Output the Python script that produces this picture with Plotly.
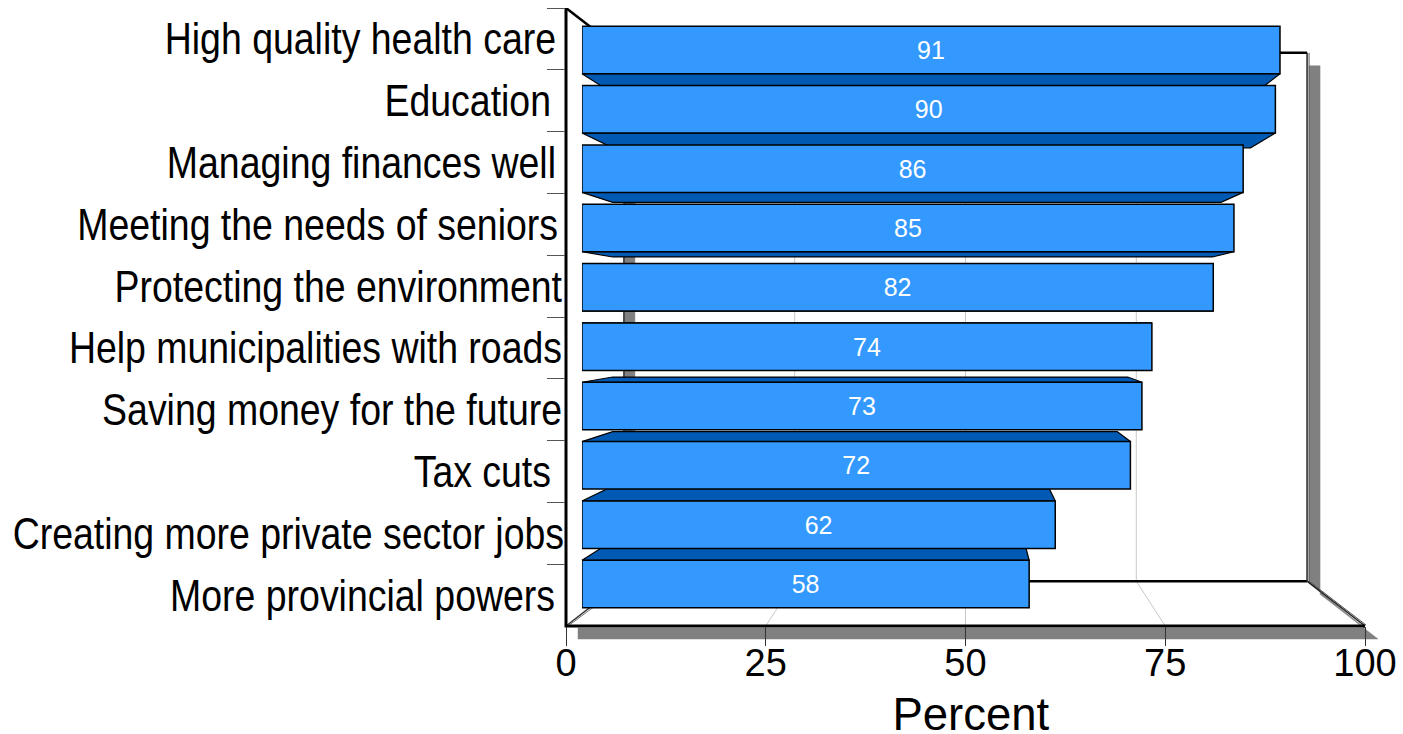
import plotly.graph_objects as go

# ---------- data ----------
categories = ["High quality health care", "Education", "Managing finances well",
              "Meeting the needs of seniors", "Protecting the environment",
              "Help municipalities with roads", "Saving money for the future",
              "Tax cuts", "Creating more private sector jobs", "More provincial powers"]
bar_values = [91.0, 90.4, 86.2, 85.0, 82.3, 74.3, 73.0, 71.5, 61.7, 58.3]
value_labels = ["91", "90", "86", "85", "82", "74", "73", "72", "62", "58"]
x_ticks = [0, 25, 50, 75, 100]
x_title = "Percent"

# ---------- layout constants ----------
W, H = 1403, 734
LEFT, RIGHT, TOP, BOTTOM = 566, 1365, 8, 626
BACK_SCALE = 0.855          # back wall size / front plane size
BAR_FRONT = 0.96            # bar front face size / front plane size
BAR_BACK = 0.883            # bar back face size / front plane size
FONT = "Liberation Sans"
BLUE, DARK_BLUE, SHADOW, GRID = "#3399FF", "#0059B3", "#808080", "#C8C8C8"
N = len(categories)
MID_R = (N - 1) / 2
PAD = 30                    # extra pixels around the drawing frame
LABEL_STRETCH = 0.851       # category labels are drawn horizontally condensed
LABEL_RIGHT = 561           # right edge of the category labels, px
LABEL_NUDGE = [-5, -10, -5, -3, 1, 1, 1, -10, 3, -6]   # offsets of those labels from that edge, px
TITLE_CENTER = [971, 714]   # axis title centre, px


def project(v, r, s):
    """Perspective from the front plane, toward the chart centre."""
    return 50 + (v - 50) * s, MID_R + (r - MID_R) * s


def dom_x(a, b):
    return [a / W, b / W]


def dom_y(top, bottom):
    return [1 - bottom / H, 1 - top / H]


fig = go.Figure()


def poly(points, fill=None, color="black", width=1.0):
    xs = [p[0] for p in points]
    ys = [p[1] for p in points]
    if fill:
        xs.append(xs[0])
        ys.append(ys[0])
    fig.add_trace(go.Scatter(
        x=xs, y=ys, mode="lines", xaxis="x", yaxis="y",
        fill="toself" if fill else None, fillcolor=fill,
        line=dict(color=color, width=width), hoverinfo="skip", showlegend=False))


# frame corners
top_r, bot_r = -0.5, N - 0.5
BL = project(0, bot_r, BACK_SCALE)
BR = project(100, bot_r, BACK_SCALE)
TL = project(0, top_r, BACK_SCALE)
TR = project(100, top_r, BACK_SCALE)
FL, FR, FT = (0, bot_r), (100, bot_r), (0, top_r)
PX = 100 / (RIGHT - LEFT)             # value units per pixel
PY = N / (BOTTOM - TOP)               # row units per pixel
DX, DY = 13 * PX, 13 * PY

# shadow
poly([(FL[0] + 12 * PX, FL[1] + 2 * PY), (FL[0] + 12 * PX, FL[1] + DY), (FR[0] + DX, FR[1] + DY),
      (BR[0] + DX, BR[1] + DY), (TR[0] + DX, TR[1] + DY), (TR[0] + 2 * PX, TR[1] + DY),
      (BR[0] + 2 * PX, BR[1] + 2 * PY), (FR[0], FR[1] + 2 * PY)], fill=SHADOW, color=SHADOW, width=0.5)
poly([(TL[0], TL[1] + DY), (TL[0] + 11 * PX, TL[1] + DY), (BL[0] + 11 * PX, BL[1]), BL],
     fill=SHADOW, color=SHADOW, width=0.5)

# grid lines on back wall and floor
for t in x_ticks[1:-1]:
    a = project(t, top_r, BACK_SCALE)
    b = project(t, bot_r, BACK_SCALE)
    poly([a, b, (t, bot_r)], color=GRID, width=1)

# walls
poly([TL, BL], color="#333333", width=1.5)
poly([BL, BR], color="black", width=2.5)
poly([TL, TR], color="black", width=2.5)
poly([TR, BR], color="#222222", width=1.5)
poly([(TR[0] + 2 * PX, TR[1]), (BR[0] + 2 * PX, BR[1] + 2 * PY)], color="#555555", width=1)
poly([BR, FR], color="#222222", width=1.5)
poly([(BR[0] + 2 * PX, BR[1]), (FR[0] + 1 * PX, FR[1] - 1 * PY)], color="#555555", width=1)
poly([FL, BL], color="#333333", width=1.5)
poly([(FL[0] + 2 * PX, FL[1]), (BL[0] + 2 * PX, BL[1] + 2 * PY)], color="#777777", width=1)
poly([FT, TL], color="black", width=2.5)
# front axis lines, centred on the front plane edges
poly([FT, FL, FR], color="black", width=3)

# depth faces of the bars (below the front faces)
half = 0.4
for i, v in enumerate(bar_values):
    r = i + half if i < MID_R else i - half
    poly([project(0, r, BAR_FRONT), project(v, r, BAR_FRONT),
          project(v, r, BAR_BACK), project(0, r, BAR_BACK)],
         fill=DARK_BLUE, color="black", width=1.2)

# the visible axes need one trace to exist; its markers stay invisible
fig.add_trace(go.Scatter(
    x=bar_values, y=categories, mode="markers", marker=dict(opacity=0, size=1),
    xaxis="x2", yaxis="y2", hoverinfo="skip", showlegend=False))

# front faces of the bars, on their own axes set into the chart at the bar plane
fig.add_trace(go.Bar(
    x=bar_values, y=categories, orientation="h", xaxis="x3", yaxis="y3",
    marker=dict(color=BLUE, line=dict(color="black", width=1.5)),
    text=value_labels, textposition="inside", insidetextanchor="middle", textangle=0,
    constraintext="none", textfont=dict(family=FONT, size=25, color="white"),
    hoverinfo="skip", showlegend=False, cliponaxis=False))

cx, cy = (LEFT + RIGHT) / 2, (TOP + BOTTOM) / 2
hw, hh = (RIGHT - LEFT) / 2, (BOTTOM - TOP) / 2
main_dx, main_dy = dom_x(LEFT, RIGHT), dom_y(TOP, BOTTOM)

hidden = dict(visible=False, fixedrange=True, automargin=False)
fig.update_layout(
    template="none",
    width=W, height=H, margin=dict(l=0, r=0, t=0, b=0), autosize=False,
    paper_bgcolor="white", plot_bgcolor="rgba(0,0,0,0)", showlegend=False,
    bargap=0.2, font=dict(family=FONT, color="black"),
    # drawing frame (first subplot: under everything), slightly larger than the axes
    xaxis=dict(domain=dom_x(LEFT - PAD, RIGHT + PAD), range=[-PAD * PX, 100 + PAD * PX], anchor="y", **hidden),
    yaxis=dict(domain=dom_y(TOP, BOTTOM + PAD), range=[bot_r + PAD * PY, top_r], anchor="x", **hidden),
    # visible axes
    xaxis2=dict(domain=main_dx, range=[0, 100], anchor="y2", tickmode="array", automargin=False,
                tickvals=x_ticks, ticktext=[str(t) for t in x_ticks],
                showgrid=False, zeroline=False, showline=False,
                ticks="outside", ticklen=19, tickwidth=1, tickcolor="#333333", ticklabelstandoff=-16,
                tickfont=dict(family=FONT, size=38, color="black"),
                title=dict(text=x_title, font=dict(family=FONT, size=45.5, color="black"))),
    yaxis2=dict(domain=main_dy, type="category", categoryorder="array", categoryarray=categories,
                range=[N - 0.5, -0.5], anchor="x2", tickson="boundaries", automargin=False,
                showgrid=False, zeroline=False, showline=False,
                ticks="outside", ticklen=18, tickwidth=1, tickcolor="#555555",
                ticklabelstandoff=-7,
                tickfont=dict(family=FONT, size=44, color="black")),
    # bar plane
    xaxis3=dict(domain=dom_x(cx - hw * BAR_FRONT, cx + hw * BAR_FRONT), range=[0, 100], anchor="y3", **hidden),
    yaxis3=dict(domain=dom_y(cy - hh * BAR_FRONT, cy + hh * BAR_FRONT), type="category",
                categoryorder="array", categoryarray=categories,
                range=[N - 0.5, -0.5], anchor="x3", **hidden),
)

# condense the category labels horizontally around their right edge; place the axis title
post = """
document.body.style.margin='0';document.body.style.overflow='hidden';
(function(){
  var gd=document.getElementById('{plot_id}');
  var cats=%s, nudge=%s, k=%s, edge=%s, tc=%s;
  function squeeze(){
    gd.querySelectorAll('.y2tick text').forEach(function(t){
      var i=cats.indexOf(t.textContent);
      if(i<0) return;
      var base=t.getAttribute('data-base');
      if(base===null){base=t.getAttribute('transform')||'';t.setAttribute('data-base',base);}
      t.setAttribute('transform',base);
      var x=parseFloat(t.getAttribute('x'))||0;
      var dx=edge+nudge[i]-t.getBoundingClientRect().right;
      t.setAttribute('transform',base+' translate('+(x+dx)+',0) scale('+k+',1) translate('+(-x)+',0)');
    });
    gd.querySelectorAll('.g-x2title').forEach(function(g){
      g.removeAttribute('transform');
      var b=g.getBoundingClientRect();
      g.setAttribute('transform','translate('+(tc[0]-(b.left+b.right)/2)+','+(tc[1]-(b.top+b.bottom)/2)+')');
    });
  }
  squeeze();
  if(gd.on) gd.on('plotly_afterplot',squeeze);
  setTimeout(squeeze,50);
})();
""" % (categories, LABEL_NUDGE, LABEL_STRETCH, LABEL_RIGHT, TITLE_CENTER)
fig.write_html("out.html", config={"displayModeBar": False}, post_script=post)
